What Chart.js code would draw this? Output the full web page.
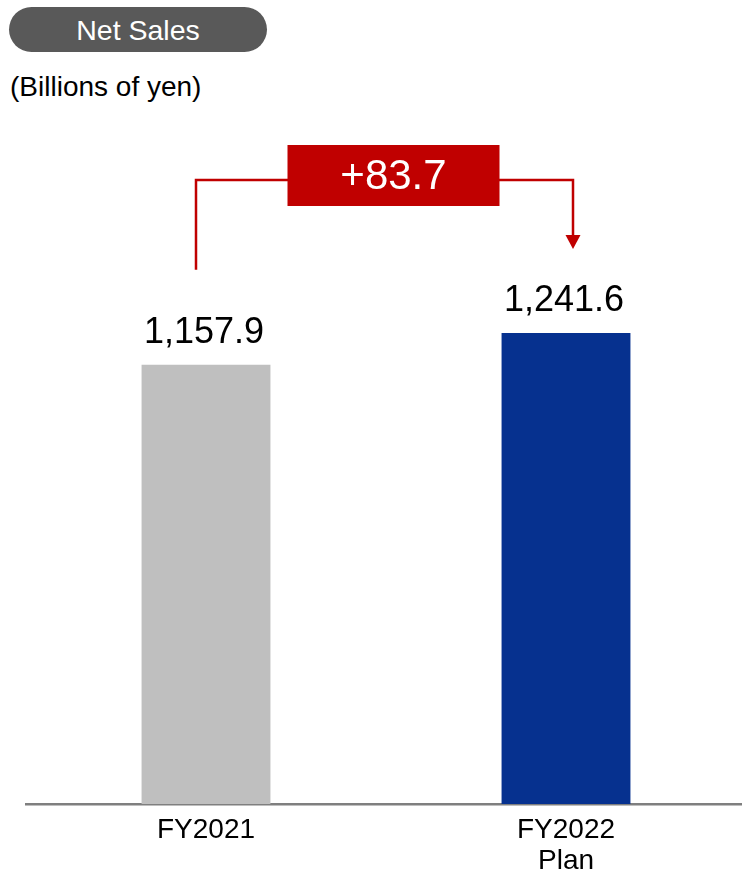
<!DOCTYPE html>
<html>
<head>
<meta charset="utf-8">
<title>Net Sales</title>
<script src="https://cdn.jsdelivr.net/npm/chart.js@4.4.0/dist/chart.umd.min.js"></script>
<style>
    body {
        margin: 0;
        width: 742px;
        height: 877px;
        overflow: hidden;
        position: relative;
        background: #fff;
        font-family: "Liberation Sans", Arial, sans-serif;
    }
    .pill {
        position: absolute;
        left: 9px;
        top: 7px;
        width: 258px;
        height: 45px;
        border-radius: 23px;
        background: #595959;
        color: #fff;
        font-size: 28.5px;
        line-height: 45px;
        padding-top: 1px;
        box-sizing: border-box;
        text-align: center;
    }
    .unit {
        position: absolute;
        left: 10px;
        top: 73px;
        font-size: 28px;
        line-height: 28px;
        color: #000;
    }
    #chartBox {
        position: absolute;
        left: 0;
        top: 0;
    }
</style>
</head>
<body>
<div class="pill">Net Sales</div>
<div class="unit">(Billions of yen)</div>
<div id="chartBox"><canvas id="myChart" width="746" height="877"></canvas></div>

<script>
const categories = ["FY2021", ["FY2022", "Plan"]];
const netSales = [1157.9, 1241.6];

const barColors = ["#bfbfbf", "#06318f"];
const RED = "#c00000";
const FONT = '"Liberation Sans", Arial, sans-serif';

function fmt(v) {
    return v.toLocaleString("en-US", { minimumFractionDigits: 1, maximumFractionDigits: 1 });
}

// value above each bar
const valueLabels = {
    id: "valueLabels",
    afterDatasetsDraw(chart) {
        const ctx = chart.ctx;
        const meta = chart.getDatasetMeta(0);
        ctx.save();
        ctx.font = "36px " + FONT;
        ctx.fillStyle = "#000";
        ctx.textAlign = "center";
        ctx.textBaseline = "alphabetic";
        meta.data.forEach((bar, i) => {
            ctx.fillText(fmt(netSales[i]), bar.x - 2, bar.y - 22);
        });
        ctx.restore();
    },
};

// bracket arrow with the difference between the two years
const diffBracket = {
    id: "diffBracket",
    afterDatasetsDraw(chart) {
        const ctx = chart.ctx;
        const x = chart.scales.x;
        const y = chart.scales.y;
        const x1 = x.getPixelForValue(0) - 10;
        const x2 = x.getPixelForValue(1) + 7;
        const yTop = 180;
        const yStart = y.getPixelForValue(netSales[0]) - 95;
        const yEnd = y.getPixelForValue(netSales[1]) - 84;

        ctx.save();
        ctx.strokeStyle = RED;
        ctx.fillStyle = RED;
        ctx.lineWidth = 2.5;
        ctx.beginPath();
        ctx.moveTo(x1, yStart);
        ctx.lineTo(x1, yTop);
        ctx.lineTo(x2, yTop);
        ctx.lineTo(x2, yEnd - 12);
        ctx.stroke();

        ctx.beginPath();
        ctx.moveTo(x2 - 7.5, yEnd - 14);
        ctx.lineTo(x2 + 7.5, yEnd - 14);
        ctx.lineTo(x2, yEnd);
        ctx.closePath();
        ctx.fill();

        // red box
        const bw = 212, bh = 61;
        const cx = (x1 + x2) / 2 + 9;
        const cy = 175.5;
        ctx.fillRect(cx - bw / 2, cy - bh / 2, bw, bh);

        const diff = netSales[1] - netSales[0];
        ctx.fillStyle = "#fff";
        ctx.font = "42px " + FONT;
        ctx.textAlign = "center";
        ctx.textBaseline = "middle";
        ctx.fillText("+" + diff.toFixed(1), cx, cy + 2);
        ctx.restore();
    },
};

const ctx = document.getElementById("myChart");
new Chart(ctx, {
    type: "bar",
    data: {
        labels: categories,
        datasets: [
            {
                data: netSales,
                backgroundColor: barColors,
                borderWidth: 0,
                categoryPercentage: 1,
                barPercentage: 0.358,
            },
        ],
    },
    options: {
        responsive: false,
        animation: false,
        events: [],
        layout: {
            padding: { left: 26, right: 0, top: 121, bottom: 0 },
        },
        plugins: {
            legend: { display: false },
            tooltip: { enabled: false },
        },
        scales: {
            x: {
                z: 1,
                grid: { display: false, drawTicks: false },
                border: { display: true, color: "#7f7f7f", width: 2.5 },
                ticks: {
                    color: "#000",
                    padding: 11,
                    font: { family: FONT, size: 28, lineHeight: 1.1 },
                },
                afterFit(scale) {
                    scale.height = 73;
                },
            },
            y: {
                display: false,
                min: 0,
                max: 1800,
            },
        },
    },
    plugins: [valueLabels, diffBracket],
});
</script>
</body>
</html>
